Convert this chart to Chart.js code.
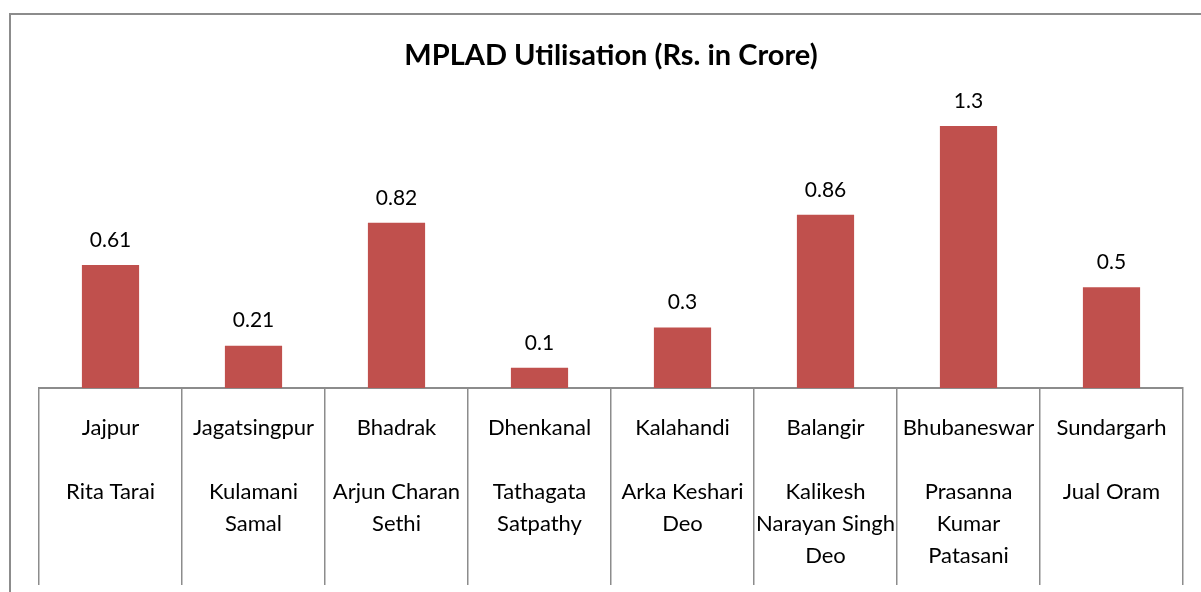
<!DOCTYPE html>
<html>
<head>
<meta charset="utf-8">
<title>MPLAD Utilisation</title>
<script src="https://cdn.jsdelivr.net/npm/chart.js@4.4.1/dist/chart.umd.min.js"></script>
<style>
    html, body { margin: 0; padding: 0; background: #ffffff; }
    canvas { display: block; }
</style>
</head>
<body>
<canvas id="mpladChart" width="1201" height="592"></canvas>
<script>
// Constituencies and their MPs (multi-line labels under the axis)
const districts = ['Jajpur', 'Jagatsingpur', 'Bhadrak', 'Dhenkanal', 'Kalahandi', 'Balangir', 'Bhubaneswar', 'Sundargarh'];
const mpNames = [
    ['Rita Tarai'],
    ['Kulamani', 'Samal'],
    ['Arjun Charan', 'Sethi'],
    ['Tathagata', 'Satpathy'],
    ['Arka Keshari', 'Deo'],
    ['Kalikesh', 'Narayan Singh', 'Deo'],
    ['Prasanna', 'Kumar', 'Patasani'],
    ['Jual Oram']
];
// Utilisation in Rs. crore
const utilisation = [0.61, 0.21, 0.82, 0.1, 0.3, 0.86, 1.3, 0.5];

const FONT = 'Lato, Carlito, Calibri, sans-serif';

// district on the first line, a blank line, then the MP name
const labels = districts.map((d, i) => [d, ''].concat(mpNames[i]));

// grey frame around the chart (left and top edges are visible)
const framePlugin = {
    id: 'frame',
    beforeDraw(chart) {
        const ctx = chart.ctx;
        ctx.save();
        ctx.fillStyle = '#ffffff';
        ctx.fillRect(0, 0, chart.width, chart.height);
        ctx.strokeStyle = '#8c8c8c';
        ctx.lineWidth = 2;
        ctx.beginPath();
        ctx.moveTo(10, chart.height);
        ctx.lineTo(10, 14);
        ctx.lineTo(chart.width, 14);
        ctx.stroke();
        ctx.restore();
    }
};

// value labels above each bar
const valueLabels = {
    id: 'valueLabels',
    afterDatasetsDraw(chart) {
        const ctx = chart.ctx;
        const meta = chart.getDatasetMeta(0);
        ctx.save();
        ctx.fillStyle = '#000000';
        ctx.font = '21px ' + FONT;
        ctx.textAlign = 'center';
        ctx.textBaseline = 'middle';
        meta.data.forEach((bar, i) => {
            ctx.fillText(String(utilisation[i]), bar.x, bar.y - 25);
        });
        ctx.restore();
    }
};

const ctx = document.getElementById('mpladChart').getContext('2d');
const mpladChart = new Chart(ctx, {
    type: 'bar',
    data: {
        labels: labels,
        datasets: [{
            label: 'MPLAD Utilisation',
            data: utilisation,
            backgroundColor: '#c0504d',
            borderWidth: 0,
            barPercentage: 0.4,
            categoryPercentage: 1.0
        }]
    },
    options: {
        responsive: false,
        animation: false,
        layout: {
            padding: { left: 39, right: 18, top: 0, bottom: 0 }
        },
        plugins: {
            legend: { display: false },
            tooltip: { enabled: false },
            title: {
                display: true,
                text: 'MPLAD Utilisation (Rs. in Crore)',
                color: '#000000',
                font: { family: FONT, size: 29, weight: 'bold', lineHeight: 1.2 },
                padding: { top: 38, bottom: 13 }
            }
        },
        scales: {
            x: {
                grid: {
                    display: true,
                    offset: true,
                    drawOnChartArea: false,
                    drawTicks: true,
                    tickLength: 197,
                    color: '#8c8c8c',
                    lineWidth: 1.5
                },
                border: { display: true, color: '#8c8c8c', width: 2 },
                ticks: {
                    color: '#000000',
                    font: { family: FONT, size: 22, lineHeight: 32 / 22 },
                    padding: 24 - 197,
                    maxRotation: 0,
                    minRotation: 0,
                    autoSkip: false
                },
                afterFit: (scale) => { scale.height = 204; }
            },
            y: {
                display: false,
                min: 0,
                max: 1.5
            }
        }
    },
    plugins: [framePlugin, valueLabels]
});
</script>
</body>
</html>
